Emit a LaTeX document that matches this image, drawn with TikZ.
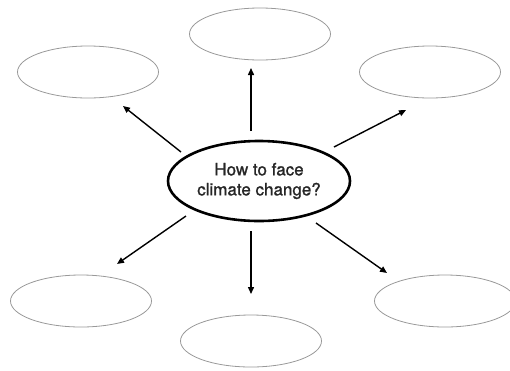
\documentclass[tikz,border=0pt]{standalone}
\usepackage{fontspec}
\setmainfont{TeX Gyre Heros}
\newfontfamily\hubfont[FakeBold=1.2]{TeX Gyre Heros}
\usetikzlibrary{arrows.meta,shapes.geometric}
\begin{document}
\begin{tikzpicture}[x=1pt,y=-1pt,
  leaf/.style={draw=black!40,line width=0.8pt,ellipse,minimum width=141pt,minimum height=52pt,inner sep=0pt},
  hub/.style={draw=black,line width=2.6pt,ellipse,minimum width=182pt,minimum height=80pt,inner sep=0pt,align=center,text=black!85,font=\hubfont\fontsize{17}{20}\selectfont},
  link/.style={line width=1.4pt,-{Triangle[length=7pt,width=6pt]}}]
\useasboundingbox (0,0) rectangle (510,370);
\node[hub] (c) at (259,181) {How to face\\climate change?};
\node[leaf] (t) at (260,34) {};
\node[leaf] (tl) at (88,72) {};
\node[leaf] (tr) at (430,72) {};
\node[leaf] (bl) at (81,301) {};
\node[leaf] (b) at (251,341) {};
\node[leaf] (br) at (445,301) {};
\coordinate (s1) at (251,131); \coordinate (e1) at (251,68);
\coordinate (s2) at (181,152); \coordinate (e2) at (123,106);
\coordinate (s3) at (334,147); \coordinate (e3) at (406,110);
\coordinate (s4) at (186,216); \coordinate (e4) at (117,264);
\coordinate (s5) at (251,231); \coordinate (e5) at (251,294);
\coordinate (s6) at (316,223); \coordinate (e6) at (387,273);
\draw[link] (s1) -- (e1);
\draw[link] (s2) -- (e2);
\draw[link] (s3) -- (e3);
\draw[link] (s4) -- (e4);
\draw[link] (s5) -- (e5);
\draw[link] (s6) -- (e6);
\end{tikzpicture}
\end{document}
